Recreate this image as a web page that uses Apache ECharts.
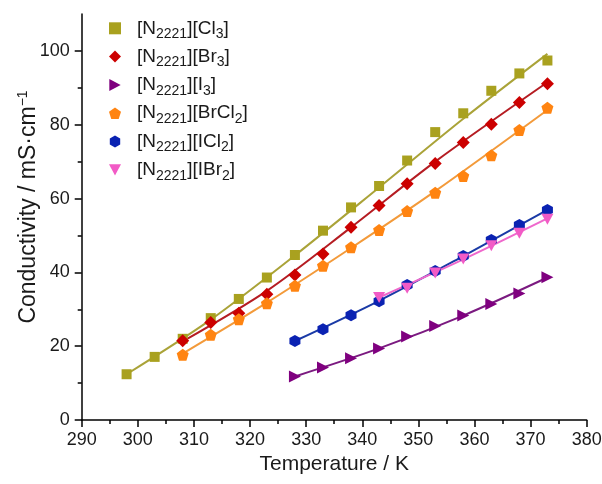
<!DOCTYPE html>
<html>
<head>
<meta charset="utf-8">
<script src="https://cdn.jsdelivr.net/npm/echarts@6/dist/echarts.min.js"></script>
<style>html,body{margin:0;padding:0;background:#fff}#c{width:602px;height:484px}</style>
</head>
<body>
<div id="c"></div>
<script>
// ---- data ----
const names = ['Cl3', 'Br3', 'I3', 'BrCl2', 'ICl2', 'IBr2'];
const legendLabels = [
  '[N{s|2221}][Cl{s|3}]',
  '[N{s|2221}][Br{s|3}]',
  '[N{s|2221}][I{s|3}]',
  '[N{s|2221}][BrCl{s|2}]',
  '[N{s|2221}][ICl{s|2}]',
  '[N{s|2221}][IBr{s|2}]'
];
const tCl3 = [298, 303, 308, 313, 318, 323, 328, 333, 338, 343, 348, 353, 358, 363, 368, 373];
const vCl3 = [12.4, 17.1, 22.0, 27.6, 32.8, 38.6, 44.7, 51.3, 57.6, 63.4, 70.3, 78.0, 83.1, 89.2, 93.9, 97.4];
const tBr3 = [308, 313, 318, 323, 328, 333, 338, 343, 348, 353, 358, 363, 368, 373];
const vBr3 = [21.5, 26.4, 28.9, 34.1, 39.3, 45.0, 52.2, 58.1, 64.0, 69.5, 75.2, 80.1, 86.0, 91.1];
const tI3 = [328, 333, 338, 343, 348, 353, 358, 363, 368, 373];
const vI3 = [11.8, 14.2, 16.7, 19.4, 22.6, 25.5, 28.3, 31.4, 34.3, 38.7];
const tBrCl2 = [308, 313, 318, 323, 328, 333, 338, 343, 348, 353, 358, 363, 368, 373];
const vBrCl2 = [17.7, 23.1, 27.3, 31.6, 36.4, 41.8, 46.8, 51.5, 56.6, 61.6, 66.1, 71.7, 78.6, 84.6];
const tICl2 = [328, 333, 338, 343, 348, 353, 358, 363, 368, 373];
const vICl2 = [21.4, 24.6, 28.4, 32.2, 36.6, 40.4, 44.4, 48.8, 52.8, 56.9];
const tIBr2 = [343, 348, 353, 358, 363, 368, 373];
const vIBr2 = [33.2, 35.7, 39.8, 43.6, 47.2, 50.6, 54.4];
// fitted curves
const fitTCl3 = [298, 313, 328, 343, 358, 373];
const fitVCl3 = [12.4, 27.2, 44.6, 63.0, 81.6, 99.2];
const fitTBr3 = [308, 323, 338, 353, 373];
const fitVBr3 = [21.3, 35.0, 52.2, 70.0, 91.5];
const fitTI3 = [328, 343, 358, 373];
const fitVI3 = [11.8, 19.4, 28.3, 38.6];
const fitTBrCl2 = [308, 323, 338, 353, 373];
const fitVBrCl2 = [18.0, 31.8, 46.6, 62.0, 84.0];
const fitTICl2 = [328, 343, 358, 373];
const fitVICl2 = [21.4, 32.3, 44.4, 56.9];
const fitTIBr2 = [343, 358, 373];
const fitVIBr2 = [33.2, 43.5, 54.6];
const xTicks = [290, 300, 310, 320, 330, 340, 350, 360, 370, 380];
const yTicks = [0, 20, 40, 60, 80, 100];
const yMinorTicks = [10, 30, 50, 70, 90];

// ---- styling ----
const markerColors = ['#a9a11f', '#cc0000', '#7f007f', '#ff8411', '#0a22b2', '#f25bc6'];
const lineColors = ['#aaa338', '#b51c22', '#7b1a80', '#f39a3a', '#1a3aa6', '#ef68cc'];
const symbols = [
  'rect',
  'diamond',
  'path://M-8,-9 L9,0 L-8,9 Z',
  'path://M0,-10 L9.51,-3.09 L5.88,8.09 L-5.88,8.09 L-9.51,-3.09 Z',
  'path://M0,-10 L8.66,-5 L8.66,5 L0,10 L-8.66,5 L-8.66,-5 Z',
  'path://M-9,-8 L9,-8 L0,9 Z'
];
const symbolSizes = [10, 13, [12, 12], [12, 12], [11, 12], [12, 11]];

const pts = [[tCl3, vCl3], [tBr3, vBr3], [tI3, vI3], [tBrCl2, vBrCl2], [tICl2, vICl2], [tIBr2, vIBr2]];
const fits = [[fitTCl3, fitVCl3], [fitTBr3, fitVBr3], [fitTI3, fitVI3], [fitTBrCl2, fitVBrCl2], [fitTICl2, fitVICl2], [fitTIBr2, fitVIBr2]];
const zip = (a, b) => a.map((x, i) => [x, b[i]]);

const FONT = 'Liberation Sans, Arial, sans-serif';
const TXT = '#1a1a1a';
const series = [];
fits.forEach((f, i) => {
  series.push({
    name: 'fit' + names[i], type: 'line', data: zip(f[0], f[1]),
    showSymbol: false, smooth: 0.3, z: 2, silent: true,
    lineStyle: { color: lineColors[i], width: 2 }
  });
});
pts.forEach((p, i) => {
  series.push({
    name: names[i], type: 'scatter', data: zip(p[0], p[1]), z: 5,
    symbol: symbols[i], symbolSize: symbolSizes[i],
    itemStyle: { color: markerColors[i], opacity: 1 }
  });
});

const labelMap = {};
names.forEach((n, i) => labelMap[n] = legendLabels[i]);

const axisLineStyle = { color: '#000', width: 1.5 };
const chart = echarts.init(document.getElementById('c'), null, { renderer: 'canvas' });
chart.setOption({
  animation: false,
  backgroundColor: '#fff',
  grid: { left: 81.7, right: 15.3, top: 14, bottom: 64, containLabel: false, outerBoundsMode: 'none' },
  legend: {
    data: names, orient: 'vertical', left: 109, top: 15.3, padding: 0,
    itemWidth: 12, itemHeight: 12, itemGap: 2.3,
    formatter: n => '{g|}' + labelMap[n],
    textStyle: {
      fontFamily: FONT, fontSize: 19, color: TXT, lineHeight: 26,
      rich: {
        g: { width: 11 },
        s: { fontFamily: FONT, fontSize: 14, lineHeight: 13, verticalAlign: 'bottom', color: TXT }
      }
    }
  },
  xAxis: {
    type: 'value', min: 290, max: 380, interval: 10,
    name: 'Temperature / K', nameLocation: 'middle', nameGap: 34, nameMoveOverlap: false,
    nameTextStyle: { fontFamily: FONT, fontSize: 21, color: TXT },
    axisLine: { show: true, lineStyle: axisLineStyle },
    axisTick: { show: true, inside: false, length: 7, lineStyle: axisLineStyle },
    minorTick: { show: true, splitNumber: 2, length: 4, lineStyle: { color: '#000', width: 1.5 } },
    axisLabel: { fontFamily: FONT, fontSize: 18, color: TXT, margin: 11, customValues: xTicks },
    splitLine: { show: false }, minorSplitLine: { show: false }
  },
  yAxis: [{
    type: 'value', min: 0, max: 110, interval: 20,
    name: 'Conductivity / mS·cm{sup|−1}', nameLocation: 'middle', nameGap: 40, nameRotate: 90,
    nameMoveOverlap: false,
    nameTextStyle: { fontFamily: FONT, fontSize: 23, color: TXT, lineHeight: 26, padding: [0, 0, 0, 20],
      rich: { sup: { fontFamily: FONT, fontSize: 14, lineHeight: 13, verticalAlign: 'top', color: TXT } } },
    axisLine: { show: true, lineStyle: axisLineStyle },
    axisTick: { show: true, inside: false, length: 7, lineStyle: axisLineStyle, customValues: yTicks },
    axisLabel: { fontFamily: FONT, fontSize: 18, color: TXT, margin: 12, customValues: yTicks },
    splitLine: { show: false }
  }, {
    type: 'value', min: 0, max: 110, interval: 10, position: 'left',
    axisLine: { show: false },
    axisTick: { show: true, inside: false, length: 4, lineStyle: axisLineStyle, customValues: yMinorTicks },
    axisLabel: { show: false },
    splitLine: { show: false }
  }],
  series: series
});
</script>
</body>
</html>
